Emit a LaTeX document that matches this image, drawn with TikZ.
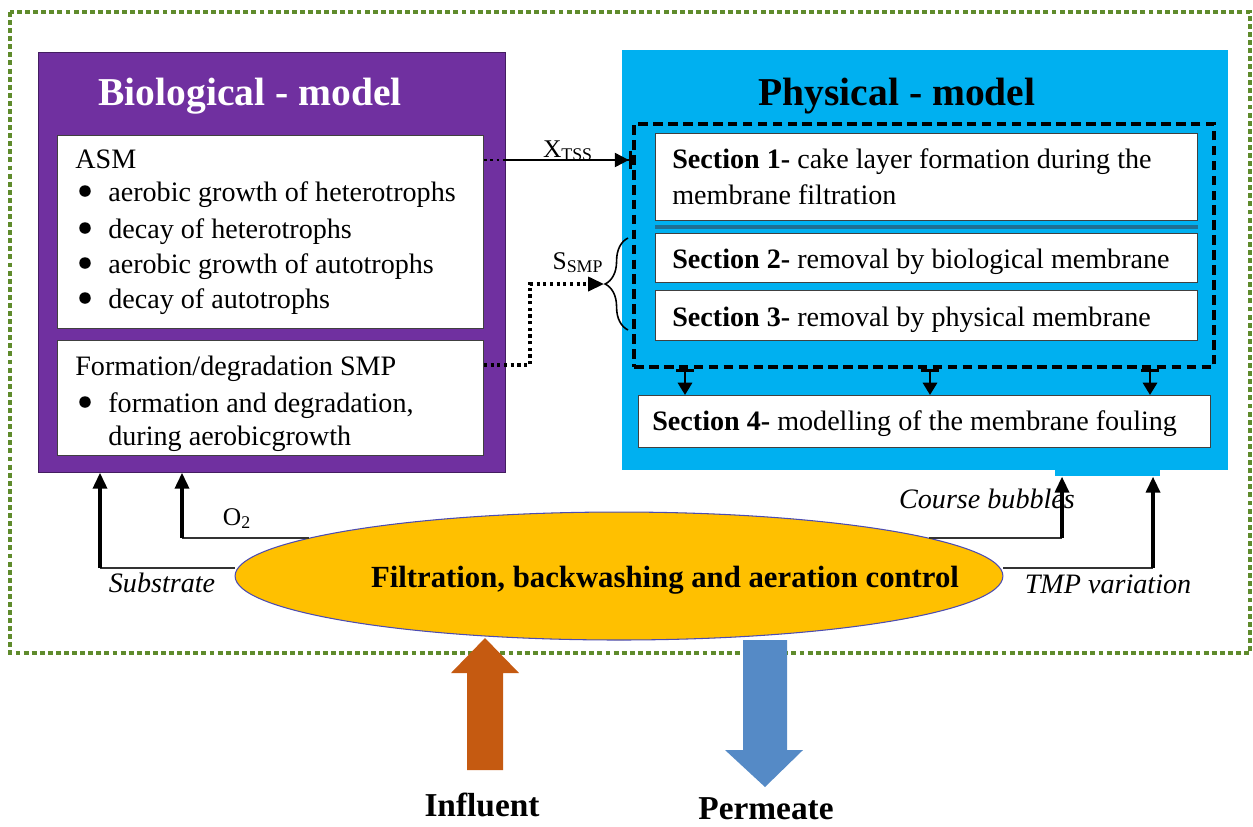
\documentclass[tikz,border=0pt]{standalone}
\usepackage{fontspec}
\setmainfont{Liberation Serif}
\usetikzlibrary{arrows.meta,shapes.geometric,decorations.pathreplacing}
\definecolor{biopurple}{HTML}{7030A0}
\definecolor{physblue}{HTML}{00B0F0}
\definecolor{ctrlgold}{HTML}{FFC000}
\definecolor{framegreen}{HTML}{5F8B2C}
\definecolor{inflorange}{HTML}{C55A11}
\definecolor{permblue}{HTML}{558AC6}
\definecolor{barblue}{HTML}{1E6F94}
\begin{document}
\begin{tikzpicture}[x = 0.02cm, y = -0.02cm,
        box/.style = {draw = black!75, fill = white, line width = 0.6pt, anchor = north west, inner sep = 0pt},
        panel/.style = {anchor = north west, inner sep = 0pt},
        txt/.style = {font = \fontsize{16}{18}\selectfont, anchor = base west, inner sep = 0pt},
        dot/.style = {circle, fill = black, inner sep = 0pt, minimum size = 0.23cm},
        title/.style = {font = \fontsize{22.5}{26}\selectfont\bfseries, anchor = base, inner sep = 0pt},
        lbl/.style = {font = \fontsize{14.5}{17}\selectfont, anchor = base, inner sep = 0pt},
        ilbl/.style = {font = \fontsize{16}{18}\selectfont\itshape, anchor = base, inner sep = 0pt},
        big/.style = {font = \fontsize{19}{22}\selectfont\bfseries, anchor = base, inner sep = 0pt},
        hline/.style = {draw = black!80, line width = 0.7pt},
        vflow/.style = {line width = 1.8pt, -{Triangle[length = 9pt, width = 8pt]}},
        tarrow/.style = {line width = 1.6pt, {Bar[width = 10pt, line width = 1.8pt]}-{Triangle[length = 7pt, width = 8pt]}}]
        \useasboundingbox (0, 0) rectangle (1253, 826);
        \draw[framegreen, line width = 2.2pt, dash pattern = on 2.8pt off 1.8pt] (10, 12) rectangle (1250, 653);
        \node[panel, fill = biopurple, draw = biopurple!60!black, line width = 0.5pt, minimum width = 9.34cm, minimum height = 8.4cm] (bio) at (38, 52) {};
        \node[title, text = white] (biotitle) at (250, 105) {Biological - model};
        \node[box, minimum width = 8.52cm, minimum height = 3.86cm] (asm) at (57, 135) {};
        \node[box, minimum width = 8.52cm, minimum height = 2.3cm] (smp) at (57, 340) {};
        \node[txt] (asmhead) at (75, 168) {ASM};
        \foreach \y/\t [count = \i] in {201/aerobic growth of heterotrophs, 238/decay of heterotrophs, 273/aerobic growth of autotrophs, 308/decay of autotrophs}
            {\node[txt] (asm\i) at (108, \y) {\t}; \node[dot] (asmdot\i) at (85, \y - 10) {};};
        \node[txt] (smphead) at (75, 375) {Formation/degradation SMP};
        \node[txt] (smp1) at (108, 412) {formation and degradation,};
        \node[dot] (smpdot1) at (85, 402) {};
        \node[txt] (smp2) at (108, 445) {during aerobicgrowth};
        \node[panel, fill = physblue, minimum width = 12.12cm, minimum height = 8.4cm] (phys) at (622, 50) {};
        \node[panel, fill = physblue, minimum width = 2.1cm, minimum height = 0.16cm] (physfoot) at (1055, 468) {};
        \node[title] (phystitle) at (897, 105) {Physical - model};
        \node[panel, draw, line width = 2.3pt, dash pattern = on 5.5pt off 3pt, minimum width = 11.6cm, minimum height = 4.86cm] (secs) at (632, 122) {};
        \node[box, minimum width = 10.84cm, minimum height = 1.74cm] (sec1) at (655, 133) {};
        \node[box, minimum width = 10.84cm, minimum height = 0.98cm] (sec2) at (655, 233) {};
        \node[box, minimum width = 10.84cm, minimum height = 1.0cm] (sec3) at (655, 290) {};
        \node[box, minimum width = 11.44cm, minimum height = 1.04cm] (sec4) at (638, 395) {};
        \draw[barblue, line width = 2.2pt] ([yshift = -0.12cm]sec1.south west) -- ([yshift = -0.12cm]sec1.south east);
        \node[txt] (sec1a) at (672, 168) {\textbf{Section 1-} cake layer formation during the};
        \node[txt] (sec1b) at (672, 204) {membrane filtration};
        \node[txt] (sec2t) at (672, 268) {\textbf{Section 2-} removal by biological membrane};
        \node[txt] (sec3t) at (672, 326) {\textbf{Section 3-} removal by physical membrane};
        \node[txt] (sec4t) at (652, 430) {\textbf{Section 4-} modelling of the membrane fouling};
        \foreach \xx in {685, 930, 1150}
            {\draw[tarrow] (\xx, 0 |- secs.south) -- (\xx, 0 |- sec4.north);};
        \draw[dotted, line width = 1.6pt] ([yshift = -0.5cm]asm.north east) -- ++(22, 0) coordinate (xtss0);
        \draw[line width = 1.2pt, -{Triangle[length = 8pt, width = 8pt]Bar[width = 10pt, line width = 1.8pt]}] (xtss0) -- (xtss0 -| secs.west);
        \node[lbl] (xtsslbl) at (568, 157) {X\textsubscript{TSS}};
        \draw[line width = 0.9pt, decorate, decoration = {brace, amplitude = 13pt}] (628, 330) -- (628, 238);
        \coordinate (bracetip) at (604, 284);
        \draw[dotted, line width = 1.8pt, -{Triangle[length = 9pt, width = 8pt]}] ([yshift = -0.5cm]smp.north east) -| (530, 284) -- (bracetip);
        \node[lbl] (ssmplbl) at (578, 269) {S\textsubscript{SMP}};
        \node[ellipse, fill = ctrlgold, draw = gray!60!blue, line width = 0.6pt, minimum width = 15.36cm, minimum height = 2.56cm, inner sep = 0pt] (ctrl) at (619, 576) {};
        \node[font = \fontsize{17.5}{20}\selectfont\bfseries, anchor = base, inner sep = 0pt] (ctrltxt) at (665, 587) {Filtration, backwashing and aeration control};
        \draw[hline] ([yshift = 0.16cm]ctrl.west) -- ([yshift = 0.16cm]ctrl.west -| 100, 0) coordinate (subbend);
        \draw[vflow] (subbend) -- (subbend |- bio.south);
        \draw[hline] (ctrl.173) -- (ctrl.173 -| 182, 0) coordinate (o2bend);
        \draw[vflow] (o2bend) -- (o2bend |- bio.south);
        \draw[hline] (ctrl.7) -- (ctrl.7 -| 1062, 0) coordinate (cbbend);
        \draw[vflow] (cbbend) -- (cbbend |- physfoot.south);
        \draw[hline] ([yshift = 0.16cm]ctrl.east) -- ([yshift = 0.16cm]ctrl.east -| 1153, 0) coordinate (tmpbend);
        \draw[vflow] (tmpbend) -- (tmpbend |- physfoot.south);
        \node[lbl] (o2lbl) at (237, 525) {O\textsubscript{2}};
        \node[ilbl] (sublbl) at (162, 592) {Substrate};
        \node[ilbl] (cblbl) at (987, 508) {Course bubbles};
        \node[ilbl] (tmplbl) at (1108, 593) {TMP variation};
        \fill[inflorange] (467, 770) -- (467, 673) -- (451, 673) -- (485, 638) -- (519, 673) -- (503, 673) -- (503, 770) -- cycle;
        \fill[permblue] (743, 640) -- (787, 640) -- (787, 750) -- (803, 750) -- (765, 787) -- (725, 750) -- (743, 750) -- cycle;
        \node[big] (influent) at (482, 816) {Influent};
        \node[big] (permeate) at (766, 819) {Permeate};
        \end{tikzpicture}
\end{document}
